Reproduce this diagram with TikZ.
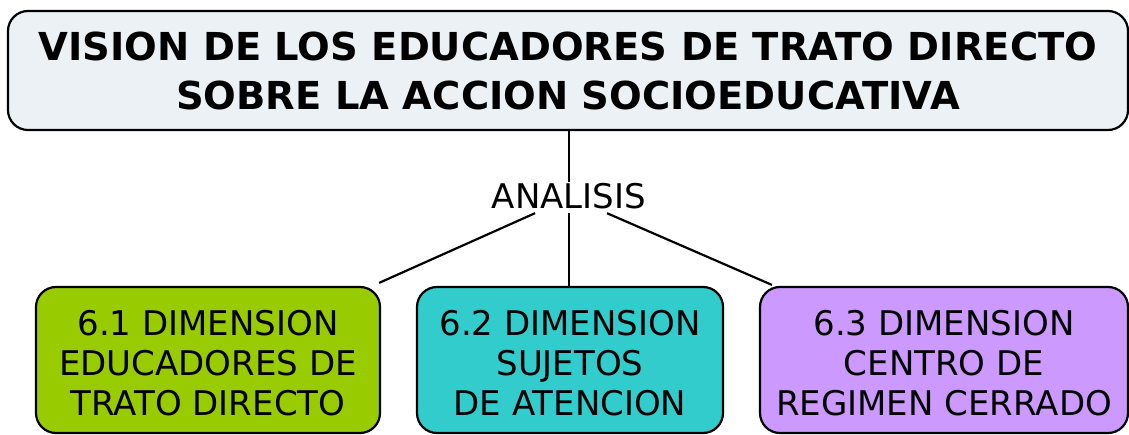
\documentclass[tikz,border=0pt]{standalone}
\usepackage{fontspec}
\setmainfont{DejaVu Sans}
\definecolor{titlefill}{HTML}{EBF1F5}
\definecolor{greenfill}{HTML}{99CC00}
\definecolor{tealfill}{HTML}{33CCCC}
\definecolor{violetfill}{HTML}{CC99FF}
\newcommand{\topstrut}{\rule{0pt}{31pt}}
\begin{document}
\begin{tikzpicture}[x=1pt,y=-1pt]
\tikzset{
  titlebox/.style={draw, line width=2.2pt, rounded corners=20pt, fill=titlefill,
    minimum width=1120pt, minimum height=119pt, align=center,
    font=\fontsize{38.5}{49}\selectfont\bfseries},
  dimbox/.style={draw, line width=2.2pt, rounded corners=20pt, minimum height=146pt,
    align=center, inner sep=0pt, font=\fontsize{34}{40}\selectfont},
  midlabel/.style={inner xsep=2pt, inner ysep=2pt, text height=25pt, text depth=2pt,
    font=\fontsize{34}{40}\selectfont},
  link/.style={line width=2.2pt}
}
\useasboundingbox (0,0) rectangle (1129,435);
\node[titlebox] (title) at (568,70.5) {VISION DE LOS EDUCADORES DE TRATO DIRECTO\\SOBRE LA ACCION SOCIOEDUCATIVA};
\node[midlabel] (an) at (569,197.5) {ANALISIS};
\node[dimbox, fill=greenfill, minimum width=344pt] (d1) at (208,360) {\topstrut6.1 DIMENSION\\EDUCADORES DE\\TRATO DIRECTO};
\node[dimbox, fill=tealfill, minimum width=306pt] (d2) at (570,360) {\topstrut6.2 DIMENSION\\SUJETOS\\DE ATENCION};
\node[dimbox, fill=violetfill, minimum width=368pt] (d3) at (944,360) {\topstrut6.3 DIMENSION\\CENTRO DE\\REGIMEN CERRADO};
\draw[link] (an.north |- title.south) -- (an.north);
\draw[link] ([xshift=-34pt]an.south) -- ([xshift=-2pt,yshift=3pt]d1.north east);
\draw[link] (an.south) -- (an.south |- d2.north);
\draw[link] ([xshift=38pt]an.south) -- ([xshift=13pt,yshift=1pt]d3.north west);
\end{tikzpicture}
\end{document}
